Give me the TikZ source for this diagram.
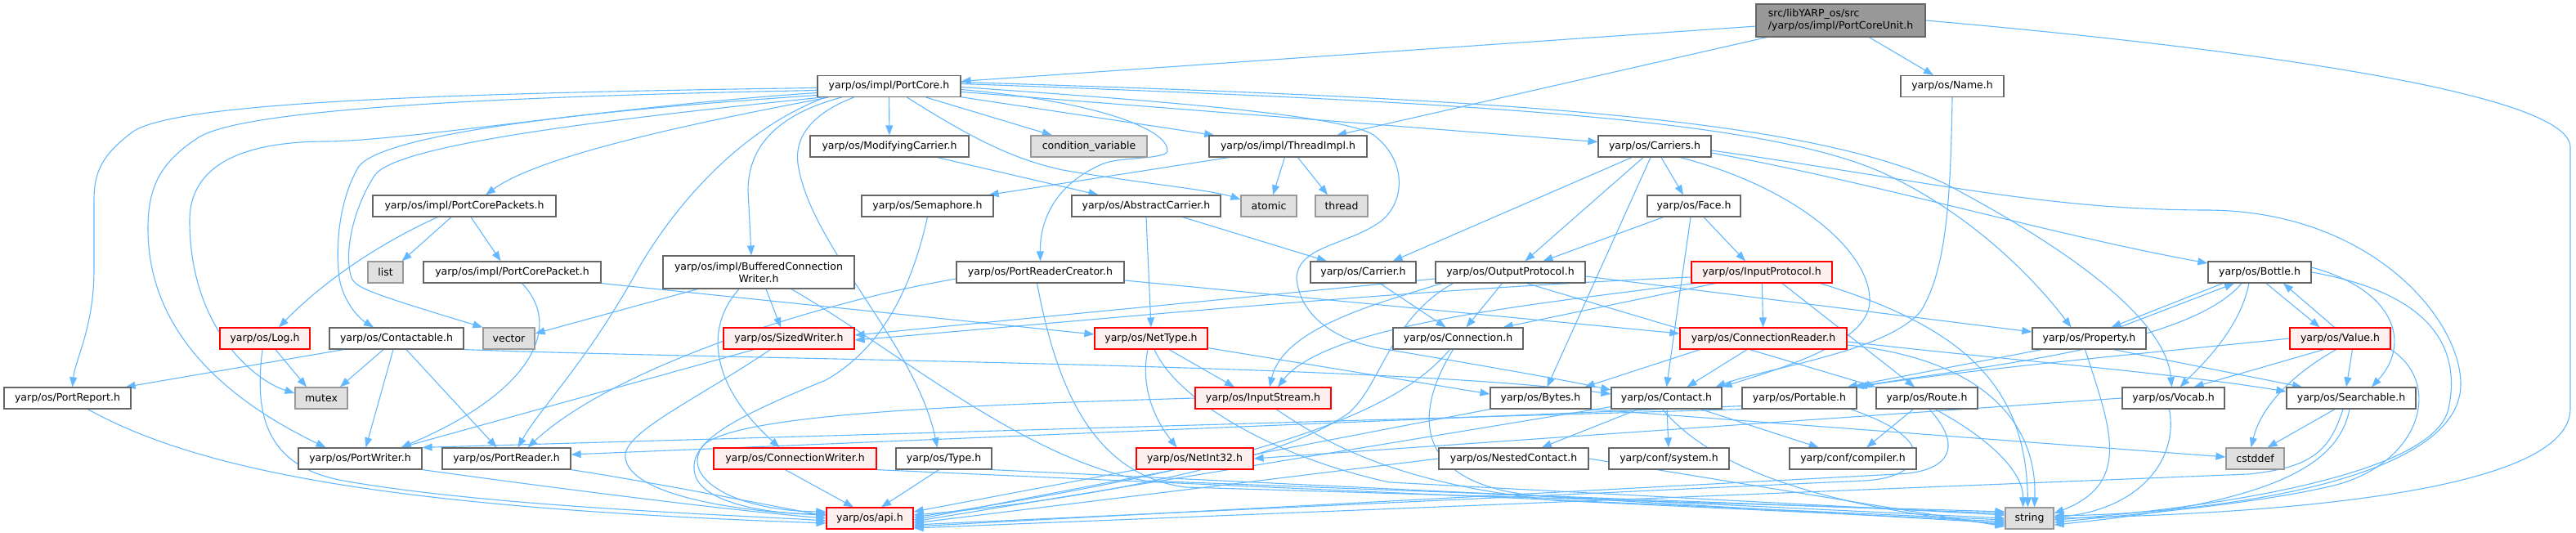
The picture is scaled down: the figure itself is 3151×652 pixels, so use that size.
\documentclass[tikz,border=0pt]{standalone}
\usepackage{fontspec}
\newfontfamily\yfont{DejaVu Sans}
\usetikzlibrary{arrows.meta,calc}
\pgfdeclarelayer{bg}
\pgfsetlayers{bg,main}
\definecolor{edgec}{HTML}{63B8FF}
\definecolor{bord}{HTML}{666666}
\definecolor{redb}{HTML}{FF0000}
\definecolor{redf}{HTML}{FFF0F0}
\definecolor{extb}{HTML}{999999}
\definecolor{extf}{HTML}{E0E0E0}
\definecolor{rootf}{HTML}{999999}
\begin{document}
\begin{tikzpicture}[x=1pt,y=-1pt,
  box/.style={draw=bord, fill=white, line width=1.2pt, minimum height=26pt, inner sep=0pt, font=\yfont\fontsize{12.5}{15}\selectfont},
  rbox/.style={box, draw=redb, fill=redf},
  gbox/.style={box, draw=extb, fill=extf},
  edg/.style={draw=edgec, line width=1.1pt, -{Triangle[length=12pt,width=9pt]}}]
\useasboundingbox (0,0) rectangle (3151,652);
% nodes
\node[box, fill=rootf, minimum width=207pt, minimum height=40pt, align=left] (U) at (2251.5,25) {src/libYARP\_os/src\\/yarp/os/impl/PortCoreUnit.h};
\node[box, minimum width=175pt] (PC) at (1087.5,105.5) {yarp/os/impl/PortCore.h};
\node[box, minimum width=126pt] (Name) at (2388,105.5) {yarp/os/Name.h};
\node[box, minimum width=194pt] (MC) at (1088,179) {yarp/os/ModifyingCarrier.h};
\node[gbox, minimum width=142pt] (CV) at (1332,179) {condition\_variable};
\node[box, minimum width=193pt] (TI) at (1575.5,179) {yarp/os/impl/ThreadImpl.h};
\node[box, minimum width=138pt] (Car) at (2024,179) {yarp/os/Carriers.h};
\node[box, minimum width=224pt] (PCP) at (568,252) {yarp/os/impl/PortCorePackets.h};
\node[box, minimum width=161pt] (Sem) at (1134.5,252) {yarp/os/Semaphore.h};
\node[box, minimum width=182pt] (AC) at (1402,252) {yarp/os/AbstractCarrier.h};
\node[gbox, minimum width=68pt] (atomic) at (1552,252) {atomic};
\node[gbox, minimum width=64pt] (thread) at (1641,252) {thread};
\node[box, minimum width=114pt] (Face) at (2072,252) {yarp/os/Face.h};
\node[gbox, minimum width=43pt] (list) at (471.5,333) {list};
\node[box, minimum width=217pt] (PCk) at (626.5,333) {yarp/os/impl/PortCorePacket.h};
\node[box, minimum width=234pt, minimum height=40pt, align=center] (BCW) at (928,333) {yarp/os/impl/BufferedConnection\\Writer.h};
\node[box, minimum width=205pt] (PRC) at (1272.5,333) {yarp/os/PortReaderCreator.h};
\node[box, minimum width=129pt] (Carrier) at (1667.5,333) {yarp/os/Carrier.h};
\node[box, minimum width=183pt] (OP) at (1847.5,333) {yarp/os/OutputProtocol.h};
\node[rbox, minimum width=172pt] (IP) at (2155,333) {yarp/os/InputProtocol.h};
\node[box, minimum width=126pt] (Bottle) at (2764,333) {yarp/os/Bottle.h};
\node[rbox, minimum width=110pt] (Log) at (324,414) {yarp/os/Log.h};
\node[box, minimum width=164pt] (Cable) at (485,414) {yarp/os/Contactable.h};
\node[gbox, minimum width=63pt] (vector) at (622.5,414) {vector};
\node[rbox, minimum width=160pt] (SW) at (965,414) {yarp/os/SizedWriter.h};
\node[rbox, minimum width=138pt] (NT) at (1408,414) {yarp/os/NetType.h};
\node[box, minimum width=159pt] (Conn) at (1783.5,414) {yarp/os/Connection.h};
\node[rbox, minimum width=204pt] (CR) at (2157,414) {yarp/os/ConnectionReader.h};
\node[box, minimum width=139pt] (Prop) at (2555.5,414) {yarp/os/Property.h};
\node[rbox, minimum width=123pt] (Value) at (2862.5,414) {yarp/os/Value.h};
\node[box, minimum width=155pt] (PRep) at (82.5,487) {yarp/os/PortReport.h};
\node[gbox, minimum width=64pt] (mutex) at (393,487) {mutex};
\node[rbox, minimum width=166pt] (IS) at (1545,487) {yarp/os/InputStream.h};
\node[box, minimum width=123pt] (Bytes) at (1884.5,487) {yarp/os/Bytes.h};
\node[box, minimum width=135pt] (Contact) at (2038.5,487) {yarp/os/Contact.h};
\node[box, minimum width=140pt] (Portable) at (2201,487) {yarp/os/Portable.h};
\node[box, minimum width=124pt] (Route) at (2357,487) {yarp/os/Route.h};
\node[box, minimum width=125pt] (Vocab) at (2658.5,487) {yarp/os/Vocab.h};
\node[box, minimum width=158pt] (Search) at (2876,487) {yarp/os/Searchable.h};
\node[box, minimum width=151pt] (PW) at (440.5,561) {yarp/os/PortWriter.h};
\node[box, minimum width=157pt] (PR) at (619.5,561) {yarp/os/PortReader.h};
\node[rbox, minimum width=199pt] (CW) at (972.5,561) {yarp/os/ConnectionWriter.h};
\node[box, minimum width=117pt] (Type) at (1154.5,561) {yarp/os/Type.h};
\node[rbox, minimum width=143pt] (NI) at (1461.5,561) {yarp/os/NetInt32.h};
\node[box, minimum width=183pt] (NC) at (1851.5,561) {yarp/os/NestedContact.h};
\node[box, minimum width=147pt] (Sys) at (2041.5,561) {yarp/conf/system.h};
\node[box, minimum width=155pt] (Comp) at (2266.5,561) {yarp/conf/compiler.h};
\node[gbox, minimum width=71pt] (cstddef) at (2758.5,561) {cstddef};
\node[rbox, minimum width=106pt] (api) at (1064,634) {yarp/os/api.h};
\node[gbox, minimum width=59pt] (string) at (2482.5,634) {string};
\begin{pgfonlayer}{bg}
% root edges
\draw[edg] (U) -- (PC);
\draw[edg] (U) -- (TI);
\draw[edg] (U) -- (Name);
\draw[edg] (U.east) .. controls (2700,55) and (3144,110) .. (3144,180) -- (3144,500) .. controls (3144,600) and (2800,628) .. (string.east);
% PortCore left fan
\draw[edg] ($(PC.west)+(0,2)$) .. controls (450,115) and (200,130) .. (160,163) .. controls (125,190) and (115,210) .. (115,245) -- (115,330) .. controls (115,400) and (92,440) .. ($(PRep.north)+(6,0)$);
\draw[edg] ($(PC.west)+(0,5)$) .. controls (500,120) and (280,140) .. (240,170) .. controls (195,200) and (181,230) .. (181,280) .. controls (181,420) and (300,500) .. ($(PW.north)+(-42,0)$);
\draw[edg] ($(PC.west)+(0,8)$) .. controls (750,130) and (500,172) .. (400,173) .. controls (300,173) and (232,200) .. (232,270) .. controls (232,400) and (310,465) .. ($(mutex.west)+(0,-6)$);
\draw[edg] ($(PC.west)+(0,11)$) .. controls (650,140) and (460,170) .. (438,205) .. controls (415,245) and (410,300) .. (415,340) .. controls (420,370) and (440,390) .. ($(Cable.north)+(-28,0)$);
\draw[edg] ($(PC.south west)+(6,0)$) .. controls (700,150) and (480,180) .. (458,215) .. controls (432,255) and (420,310) .. (430,340) .. controls (436,352) and (450,358) .. (vector.north west);
\draw[edg] ($(PC.south west)+(14,0)$) .. controls (850,150) and (660,190) .. ($(PCP.north)+(26,0)$);
\draw[edg] ($(PC.south west)+(30,0)$) .. controls (950,140) and (915,180) .. (915,233) -- ($(BCW.north)+(-9,0)$);
\draw[edg] ($(PC.south west)+(10,0)$) .. controls (900,160) and (820,260) .. (780,330) .. controls (720,440) and (660,500) .. ($(PR.north)+(14,0)$);
\draw[edg] ($(PC.south west)+(45,0)$) .. controls (990,140) and (972,170) .. (976,200) .. controls (990,300) and (1120,420) .. ($(Type.north)+(-8,0)$);
% PortCore down/right
\draw[edg] (PC) -- (MC);
\draw[edg] (PC) -- (CV);
\draw[edg] ($(PC.south)+(22,0)$) .. controls (1190,170) and (1240,195) .. (1300,208) .. controls (1400,225) and (1480,232) .. ($(atomic.west)+(0,-8)$);
\draw[edg] (PC) -- (TI);
\draw[edg] ($(PC.east)+(0,4)$) .. controls (1350,125) and (1430,160) .. (1428,185) .. controls (1426,195) and (1370,192) .. (1350,200) .. controls (1290,225) and (1272,270) .. (PRC.north);
\draw[edg] (PC) -- (Car);
\draw[edg] ($(PC.east)+(0,1)$) .. controls (1400,122) and (1640,140) .. (1680,165) .. controls (1720,195) and (1720,245) .. (1690,270) .. controls (1650,300) and (1588,300) .. (1586,340) .. controls (1590,390) and (1640,420) .. (1700,428) .. controls (1800,445) and (1900,462) .. ($(Contact.west)+(0,-10)$);
\draw[edg] ($(PC.east)+(0,-3)$) .. controls (1800,125) and (2150,145) .. (2300,210) .. controls (2400,255) and (2480,330) .. ($(Prop.north)+(-22,0)$);
\draw[edg] ($(PC.east)+(0,-5)$) .. controls (1800,120) and (2200,140) .. (2380,225) .. controls (2560,320) and (2650,400) .. ($(Vocab.north)+(-2,0)$);
% PortCorePackets
\draw[edg] ($(PCP.south)+(-16,0)$) -- ($(list.north east)+(-2,0)$);
\draw[edg] ($(PCP.south)+(8,0)$) -- ($(PCk.north)+(-14,0)$);
\draw[edg] ($(PCP.south west)+(80,0)$) .. controls (470,295) and (400,340) .. ($(Log.north)+(17,0)$);
% PortCorePacket
\draw[edg] ($(PCk.south)+(12,0)$) .. controls (690,400) and (650,480) .. ($(PW.north east)+(-26,0)$);
\draw[edg] (PCk.south east) -- ($(NT.west)+(0,-5)$);
% Log
\draw[edg] ($(Log.south)+(13,0)$) -- ($(mutex.north)+(-18,0)$);
\draw[edg] ($(Log.south)+(-3,0)$) .. controls (312,500) and (320,570) .. (420,588) .. controls (600,620) and (900,630) .. ($(api.west)+(0,3)$);
% Contactable
\draw[edg] ($(Cable.south west)+(18,0)$) -- ($(PRep.north east)+(-7,0)$);
\draw[edg] ($(Cable.south)+(-16,0)$) -- ($(mutex.north)+(23,0)$);
\draw[edg] ($(Cable.south)+(-4,0)$) -- ($(PW.north)+(7,0)$);
\draw[edg] ($(Cable.south)+(12,0)$) -- ($(PR.north)+(-12,0)$);
\draw[edg] (Cable.south east) .. controls (900,440) and (1700,445) .. ($(Contact.west)+(0,-5)$);
% to api from left
\draw[edg] ($(PRep.south)+(25,0)$) .. controls (250,580) and (500,622) .. ($(api.west)+(0,6)$);
\draw[edg] (PW.south east) .. controls (700,600) and (900,625) .. (api.west);
\draw[edg] (PR.south east) .. controls (800,590) and (950,620) .. ($(api.west)+(0,-3)$);
% MC, TI, Sem, AC
\draw[edg] (MC) -- (AC);
\draw[edg] ($(TI.south west)+(25,0)$) -- ($(Sem.north east)+(-6,0)$);
\draw[edg] ($(TI.south)+(-4,0)$) -- ($(atomic.north)+(5,0)$);
\draw[edg] ($(TI.south)+(12,0)$) -- ($(thread.north)+(-17,0)$);
\draw[edg] (Sem.south) .. controls (1120,330) and (1090,420) .. (1010,465) .. controls (900,510) and (840,540) .. (850,580) .. controls (860,620) and (960,630) .. ($(api.west)+(0,-6)$);
\draw[edg] (AC) -- (Carrier);
\draw[edg] (AC.south) -- (NT.north);
% BCW
\draw[edg] ($(BCW.south west)+(43,0)$) -- ($(vector.east)+(0,-6)$);
\draw[edg] ($(BCW.south)+(9,0)$) -- ($(SW.north)+(-10,0)$);
\draw[edg] ($(BCW.south)+(-24,0)$) .. controls (862,400) and (868,470) .. ($(CW.north)+(-19,0)$);
\draw[edg] ($(BCW.south)+(40,0)$) .. controls (1100,430) and (1250,560) .. (1400,588) -- ($(string.west)+(0,-6)$);
% PRC
\draw[edg] ($(PRC.west)+(0,8)$) .. controls (1000,370) and (750,450) .. ($(PR.north)+(26,0)$);
\draw[edg] ($(PRC.east)+(0,10)$) -- ($(CR.west)+(0,-6)$);
\draw[edg] ($(PRC.south)+(-4,0)$) .. controls (1290,460) and (1330,580) .. (1450,596) -- ($(string.west)+(0,-8)$);
% SizedWriter
\draw[edg] ($(SW.south west)+(38,0)$) -- ($(PW.north east)+(-26,0)$);
\draw[edg] ($(SW.south west)+(58,0)$) .. controls (850,490) and (760,530) .. (765,560) .. controls (770,605) and (900,626) .. ($(api.west)+(0,-4)$);
% CW, Type, NI
\draw[edg] ($(CW.south)+(-12,0)$) -- ($(api.north)+(-20,0)$);
\draw[edg] (CW.south east) -- ($(string.west)+(0,2)$);
\draw[edg] ($(Type.south)+(-6,0)$) -- ($(api.north)+(14,0)$);
\draw[edg] (Type.south east) -- (string.west);
\draw[edg] (NI.south west) -- ($(api.east)+(0,-8)$);
% NetType
\draw[edg] ($(NT.south)+(-4,0)$) .. controls (1395,470) and (1410,510) .. ($(NI.north)+(-22,0)$);
\draw[edg] ($(NT.south)+(22,0)$) -- ($(IS.north)+(-35,0)$);
\draw[edg] ($(NT.south)+(4,0)$) .. controls (1440,490) and (1560,560) .. (1700,590) -- ($(string.west)+(0,-4)$);
\draw[edg] ($(NT.south east)+(0,-2)$) -- ($(Bytes.west)+(0,-5)$);
% InputStream
\draw[edg] (IS.west) .. controls (1200,495) and (900,505) .. (860,545) .. controls (830,585) and (900,625) .. ($(api.west)+(0,-8)$);
\draw[edg] ($(IS.south)+(16,0)$) .. controls (1620,540) and (1700,590) .. (1900,612) -- ($(string.west)+(0,4)$);
% Carriers
\draw[edg] ($(Car.south)+(-28,0)$) -- ($(Carrier.north east)+(-29,0)$);
\draw[edg] ($(Car.south)+(-14,0)$) -- ($(OP.north)+(18,0)$);
\draw[edg] ($(Car.south)+(-5,0)$) -- ($(Bytes.north)+(8,0)$);
\draw[edg] ($(Car.south)+(8,0)$) -- ($(Face.north)+(-13,0)$);
\draw[edg] ($(Car.south)+(31,0)$) .. controls (2200,230) and (2290,310) .. (2287,370) .. controls (2284,420) and (2180,450) .. (Contact.north east);
\draw[edg] ($(Car.east)+(0,8)$) .. controls (2300,225) and (2500,285) .. ($(Bottle.west)+(0,-11)$);
\draw[edg] ($(Car.east)+(0,5)$) .. controls (2350,220) and (2500,257) .. (2700,257) .. controls (2900,258) and (3010,390) .. (3010,470) .. controls (3010,590) and (2700,628) .. ($(string.east)+(0,-3)$);
% Name
\draw[edg] (Name.south) .. controls (2386,250) and (2380,330) .. (2350,380) .. controls (2310,430) and (2160,450) .. ($(Contact.north east)+(-8,0)$);
% Face
\draw[edg] (Face) -- ($(OP.north)+(40,0)$);
\draw[edg] ($(Face.south)+(-4,0)$) -- (Contact.north);
\draw[edg] ($(Face.south)+(12,0)$) -- ($(IP.north)+(-20,0)$);
% Carrier
\draw[edg] (Carrier) -- ($(Conn.north)+(-15,0)$);
% OutputProtocol
\draw[edg] ($(OP.south)+(-10,0)$) -- ($(Conn.north)+(10,0)$);
\draw[edg] ($(OP.south west)+(8,0)$) .. controls (1690,370) and (1570,400) .. ($(IS.north)+(8,0)$);
\draw[edg] ($(OP.south west)+(22,0)$) .. controls (1700,390) and (1690,470) .. (1650,505) .. controls (1560,570) and (1300,615) .. ($(api.east)+(0,-4)$);
\draw[edg] ($(OP.west)+(0,8)$) -- ($(SW.east)+(0,-4)$);
\draw[edg] ($(OP.south)+(20,0)$) -- (Route.north west);
\draw[edg] ($(OP.east)+(0,5)$) -- ($(Prop.west)+(0,-8)$);
% InputProtocol
\draw[edg] (IP) -- (CR);
\draw[edg] ($(IP.south west)+(30,0)$) -- ($(Conn.north east)+(-25,0)$);
\draw[edg] ($(IP.south west)+(5,0)$) .. controls (1850,375) and (1620,400) .. ($(IS.north)+(18,0)$);
\draw[edg] ($(IP.west)+(0,6)$) .. controls (1700,355) and (1300,395) .. ($(SW.east)+(0,2)$);
\draw[edg] ($(IP.south)+(25,0)$) -- ($(Route.north)+(-15,0)$);
\draw[edg] ($(IP.south east)+(-15,0)$) .. controls (2400,400) and (2478,470) .. ($(string.north)+(-2,0)$);
% ConnectionReader
\draw[edg] ($(CR.south west)+(25,0)$) -- ($(Bytes.north east)+(-8,0)$);
\draw[edg] ($(CR.south)+(-20,0)$) -- ($(Contact.north)+(25,0)$);
\draw[edg] ($(CR.east)+(0,4)$) .. controls (2450,440) and (2650,455) .. ($(Search.west)+(0,-8)$);
\draw[edg] ($(CR.east)+(0,8)$) .. controls (2430,440) and (2492,520) .. ($(string.north)+(6,0)$);
% Connection
\draw[edg] ($(Conn.south)+(-10,0)$) .. controls (1720,490) and (1600,560) .. ($(api.east)+(0,-1)$);
\draw[edg] ($(Conn.south)+(-6,0)$) .. controls (1720,520) and (1740,600) .. (1900,608) -- ($(string.west)+(0,6)$);
% Bytes
\draw[edg] (Bytes.south west) -- ($(api.east)+(0,2)$);
\draw[edg] (Bytes.south east) -- ($(cstddef.west)+(0,-2)$);
% Contact
\draw[edg] (Contact) -- (NC);
\draw[edg] (Contact) -- (Sys);
\draw[edg] (Contact) -- (Comp);
\draw[edg] ($(Contact.south)+(-5,0)$) .. controls (2100,580) and (2250,622) .. ($(string.west)+(0,8)$);
\draw[edg] ($(Contact.south west)+(0,-3)$) -- ($(api.east)+(0,4)$);
% NestedContact
\draw[edg] (NC.west) -- ($(api.east)+(0,6)$);
\draw[edg] (NC.east) -- ($(string.west)+(0,10)$);
% Portable
\draw[edg] (Portable.south west) -- (PW.north east);
\draw[edg] ($(Portable.south west)+(0,-4)$) -- ($(PR.east)+(0,-5)$);
\draw[edg] ($(Portable.south east)+(-8,0)$) .. controls (2380,540) and (2350,585) .. (2280,588) -- ($(api.east)+(0,8)$);
% Route
\draw[edg] (Route) -- (Comp);
\draw[edg] ($(Route.south)+(10,0)$) .. controls (2440,540) and (2475,580) .. ($(string.north)+(-8,0)$);
\draw[edg] ($(Route.south)+(3,0)$) .. controls (2405,550) and (2380,578) .. (2320,580) -- ($(api.east)+(0,10)$);
% Property
\draw[edg] ($(Prop.north)+(37,0)$) -- ($(Bottle.south)+(-31,0)$);
\draw[edg] ($(Prop.south)+(30,0)$) -- ($(Search.north)+(-60,0)$);
\draw[edg] ($(Prop.south)+(-5,0)$) .. controls (2580,520) and (2610,590) .. ($(string.east)+(0,-6)$);
\draw[edg] ($(Prop.south west)+(12,0)$) -- ($(Portable.north east)+(-12,0)$);
% Bottle
\draw[edg] ($(Bottle.south)+(-45,0)$) -- ($(Prop.north)+(27,0)$);
\draw[edg] ($(Bottle.south)+(8,0)$) -- ($(Value.north)+(-25,0)$);
\draw[edg] ($(Bottle.south)+(-13,0)$) .. controls (2740,400) and (2700,440) .. ($(Vocab.north)+(8,0)$);
\draw[edg] ($(Bottle.south)+(-22,0)$) .. controls (2680,420) and (2450,445) .. ($(Portable.north east)+(-4,0)$);
\draw[edg] ($(Bottle.east)+(0,-6)$) .. controls (2930,355) and (2950,420) .. ($(Search.north)+(25,0)$);
\draw[edg] (Bottle.east) .. controls (2980,360) and (3010,430) .. (2995,500) .. controls (2975,590) and (2650,626) .. ($(string.east)+(0,2)$);
% Value
\draw[edg] ($(Value.north)+(-7,0)$) -- ($(Bottle.south)+(29,0)$);
\draw[edg] ($(Value.south)+(-20,0)$) -- ($(Vocab.north)+(25,0)$);
\draw[edg] ($(Value.south)+(15,0)$) -- ($(Search.north)+(-6,0)$);
\draw[edg] ($(Value.south)+(-5,0)$) .. controls (2800,460) and (2765,500) .. ($(cstddef.north)+(-5,0)$);
\draw[edg] (Value.south east) .. controls (2990,470) and (2960,570) .. (2850,595) .. controls (2750,618) and (2600,630) .. ($(string.east)+(0,5)$);
\draw[edg] (Value.west) .. controls (2700,425) and (2420,450) .. (Portable.north east);
% Searchable
\draw[edg] ($(Search.south)+(-20,0)$) -- ($(cstddef.north)+(15,0)$);
\draw[edg] ($(Search.south)+(-10,0)$) .. controls (2850,550) and (2830,572) .. (2750,580) -- ($(api.east)+(0,12)$);
\draw[edg] ($(Search.south)+(-2,0)$) .. controls (2860,570) and (2780,615) .. ($(string.east)+(0,8)$);
% Vocab
\draw[edg] (Vocab.west) -- (NI.east);
\draw[edg] ($(Vocab.south)+(-5,0)$) .. controls (2665,560) and (2620,622) .. ($(string.east)+(0,-1)$);
\end{pgfonlayer}
\end{tikzpicture}
\end{document}
